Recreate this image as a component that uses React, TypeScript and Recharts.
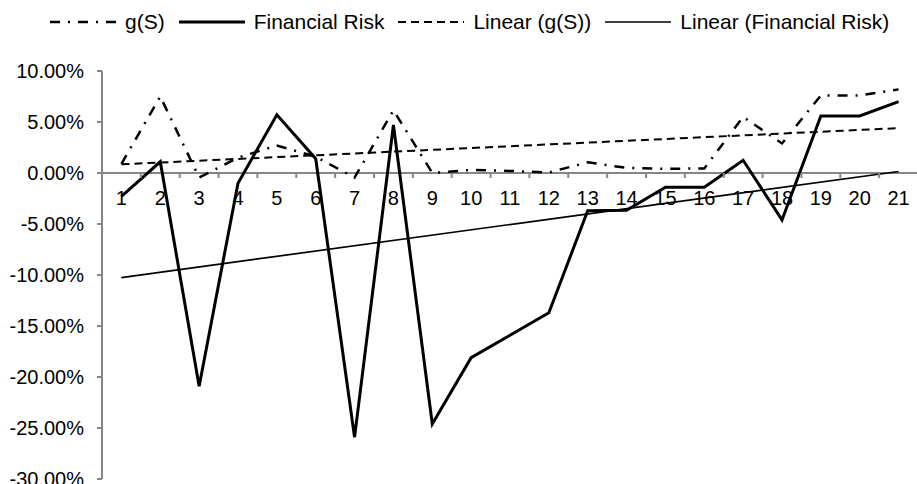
import React from 'react';
import {
  ComposedChart,
  Line,
  Scatter,
  XAxis,
  YAxis,
  Legend,
  ReferenceLine,
} from 'recharts';

const categories = [1, 2, 3, 4, 5, 6, 7, 8, 9, 10, 11, 12, 13, 14, 15, 16, 17, 18, 19, 20, 21];
const gS = [0.9, 7.5, -0.45, 1.5, 2.7, 1.6, -0.45, 6.15, 0, 0.3, 0.2, 0.05, 1.05, 0.5, 0.4, 0.45, 5.5, 2.9, 7.6, 7.6, 8.2];
const financialRisk = [-2.3, 1.1, -20.9, -1.0, 5.7, 1.4, -25.9, 4.7, -24.6, -18.1, -15.9, -13.7, -3.7, -3.65, -1.4, -1.4, 1.25, -4.6, 5.6, 5.6, 7.0];
// trendline end values (first and last category)
const linearGS = [0.85, 4.4];
const linearFR = [-10.25, 0.15];
const yTicks = [-30, -25, -20, -15, -10, -5, 0, 5, 10];

const FONT = '"Liberation Sans", Arial, sans-serif';
const AXIS = '#868686';
const last = categories.length - 1;

const data = categories.map((c, i) => ({
  x: c,
  gS: gS[i],
  fr: financialRisk[i],
  tG: i === 0 ? linearGS[0] : i === last ? linearGS[1] : null,
  tFR: i === 0 ? linearFR[0] : i === last ? linearFR[1] : null,
}));

const labelPoints = categories.map((c) => ({ x: c, y: 0 }));
const tickPoints = categories.map((c) => ({ x: c + 0.5, y: 0 }));

const legendItems = [
  { name: 'g(S)', dash: '10 8 2 8', width: 2.5 },
  { name: 'Financial Risk', dash: undefined, width: 3 },
  { name: 'Linear (g(S))', dash: '8 5', width: 2 },
  { name: 'Linear (Financial Risk)', dash: undefined, width: 1.7 },
];

function renderLegend() {
  return (
    <div
      style={{
        display: 'flex',
        alignItems: 'center',
        height: 30,
        paddingLeft: 50,
        fontFamily: FONT,
        fontSize: 21,
        color: '#000',
      }}
    >
      {legendItems.map((it) => (
        <div key={it.name} style={{ display: 'flex', alignItems: 'center', marginRight: 14 }}>
          <svg width={66} height={10}>
            <line
              x1={0}
              x2={66}
              y1={5}
              y2={5}
              stroke="#000"
              strokeWidth={it.width}
              strokeDasharray={it.dash}
            />
          </svg>
          <span style={{ marginLeft: 9, whiteSpace: 'nowrap' }}>{it.name}</span>
        </div>
      ))}
    </div>
  );
}

const CategoryLabel = (p: any) => (
  <text
    x={p.cx}
    y={p.cy + 25}
    textAnchor="middle"
    dominantBaseline="central"
    fontSize={20}
    fontFamily={FONT}
    fill="#000"
  >
    {p.payload.x}
  </text>
);

const CategoryTick = (p: any) => (
  <line x1={p.cx} x2={p.cx} y1={p.cy} y2={p.cy + 5} stroke={AXIS} strokeWidth={2} />
);

export default function App() {
  return (
    <div style={{ width: 917, height: 484, background: '#fff' }}>
      <style>{'body{margin:0}'}</style>
      <ComposedChart
        width={917}
        height={484}
        data={data}
        margin={{ top: 71, right: -1, bottom: 5, left: 0 }}
      >
        <XAxis dataKey="x" type="number" domain={[0.5, 21.5]} hide />
        <YAxis
          domain={[-30, 10]}
          ticks={yTicks}
          interval={0}
          width={102}
          tickFormatter={(v) => `${Number(v).toFixed(2)}%`}
          axisLine={{ stroke: AXIS, strokeWidth: 2 }}
          tickLine={{ stroke: AXIS, strokeWidth: 2 }}
          tickSize={5}
          tickMargin={13}
          tick={{ fontSize: 20, fill: '#000', fontFamily: FONT }}
        />
        <ReferenceLine y={0} stroke={AXIS} strokeWidth={2} />
        <Scatter data={tickPoints} dataKey="y" shape={CategoryTick} isAnimationActive={false} legendType="none" />
        <Scatter data={labelPoints} dataKey="y" shape={CategoryLabel} isAnimationActive={false} legendType="none" />
        <Line
          dataKey="tG"
          name="Linear (g(S))"
          stroke="#000"
          strokeWidth={2}
          strokeDasharray="8 5"
          dot={false}
          connectNulls
          isAnimationActive={false}
        />
        <Line
          dataKey="tFR"
          name="Linear (Financial Risk)"
          stroke="#000"
          strokeWidth={1.7}
          dot={false}
          connectNulls
          isAnimationActive={false}
        />
        <Line
          dataKey="gS"
          name="g(S)"
          stroke="#000"
          strokeWidth={2.5}
          strokeDasharray="10 8 2 8"
          dot={false}
          isAnimationActive={false}
        />
        <Line
          dataKey="fr"
          name="Financial Risk"
          stroke="#000"
          strokeWidth={3}
          dot={false}
          isAnimationActive={false}
        />
        <Legend
          verticalAlign="middle"
          layout="horizontal"
          wrapperStyle={{ top: 7, left: 0, width: 917 }}
          content={renderLegend}
        />
      </ComposedChart>
    </div>
  );
}
